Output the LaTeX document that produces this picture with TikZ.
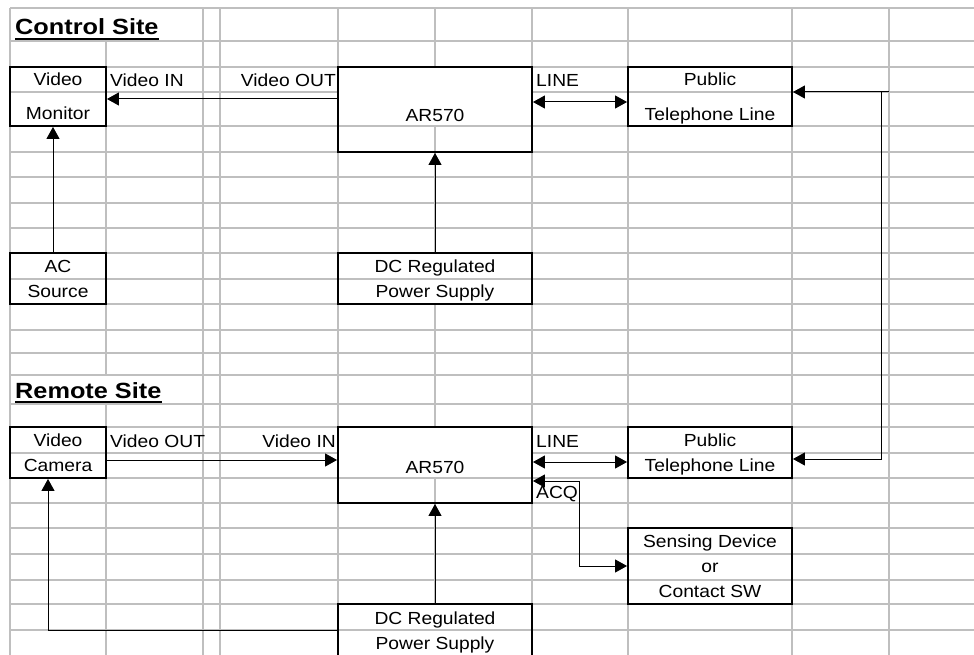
\documentclass[tikz,border=0pt]{standalone}
\usepackage{fontspec}
\usetikzlibrary{arrows.meta}
\newfontfamily\cellfont{Liberation Sans}[FakeStretch=1.1]
\newfontfamily\titlefont{Liberation Sans}[FakeStretch=1.15]
\begin{document}
\begin{tikzpicture}[
  x=1pt, y=-1pt,
  gridline/.style={draw=black!25, line width=1.3pt},
  mask/.style={fill=white},
  box/.style={
    draw, line width=1.9pt,
    inner sep=0pt, align=center, text depth=0pt,
    font=\cellfont\fontsize{17.5}{25}\selectfont
  },
  lbl/.style={inner sep=0pt, font=\cellfont\fontsize{17.5}{25}\selectfont},
  ttl/.style={inner sep=0pt, font=\titlefont\bfseries\fontsize{22}{26}\selectfont},
  arr/.style={line width=1pt, -{Triangle[length=12pt,width=13pt]}},
  arrboth/.style={line width=1pt, {Triangle[length=12pt,width=13pt]}-{Triangle[length=12pt,width=13pt]}}
]
\useasboundingbox (0,0) rectangle (974,655);

% --- sheet grid ---
\foreach \gx in {10,106,203,220,338,435,532,628,792,889}
  \draw[gridline] (\gx,8) -- (\gx,655);
\foreach \gy in {8,41,67,92,126,152,177,203,228,253,279,304,330,353,375,404,427,453,478,503,528,554,580,604,630}
  \draw[gridline] (10,\gy) -- (974,\gy);

% merged cells hide the inner grid lines
\foreach \xa/\ya/\xb/\yb in {11/9/202/40, 11/376/202/403, 339/68/531/125, 339/428/531/477,
                              339/254/531/278, 339/280/531/303, 339/605/531/629, 339/631/531/655}
  \fill[mask] (\xa,\ya) rectangle (\xb,\yb);

% --- Control Site ---
\node[ttl, anchor=base west] (ttlCtl) at (15,35) {Control Site};
\draw[line width=1.7pt] ([yshift=-4pt]ttlCtl.base west) -- ([yshift=-4pt]ttlCtl.base east);

\node[box, minimum width=96pt, minimum height=59pt] (mon) at (58,96.5) {Video\\[9pt]Monitor};
\node[box, minimum width=194pt, minimum height=85pt] (ar1) at (435,109.5) {\raisebox{-11pt}{AR570}};
\node[box, minimum width=164pt, minimum height=59pt] (ptl1) at (710,96.5) {Public\\[10pt]Telephone Line};
\node[box, minimum width=96pt, minimum height=51pt] (ac) at (58,278.5) {AC\\Source};
\node[box, minimum width=194pt, minimum height=51pt] (dc1) at (435,278.5) {DC Regulated\\Power Supply};

\node[lbl, anchor=base west] (vin1) at (110,87) {Video IN};
\node[lbl, anchor=base east] (vout1) at (336,87) {Video OUT};
\node[lbl, anchor=base west] (line1) at (536,87) {LINE};

\draw[arr] ([yshift=10.5pt]ar1.west) -- ([yshift=10.5pt]ar1.west -| mon.east);
\draw[arrboth] ([yshift=7.5pt]ar1.east) -- ([yshift=7.5pt]ar1.east -| ptl1.west);
\draw[arr] (dc1.north) -- (ar1.south);
\draw[arr] ([xshift=-5pt]ac.north) -- ([xshift=-5pt]mon.south);

% --- telephone line loop ---
\coordinate (loopR) at (889,92);
\coordinate (loopT) at (881,92);
\draw[arr] (loopR) -- (loopR -| ptl1.east);

% --- Remote Site ---
\node[ttl, anchor=base west] (ttlRem) at (15,398) {Remote Site};
\draw[line width=1.7pt] ([yshift=-4pt]ttlRem.base west) -- ([yshift=-4pt]ttlRem.base east);

\node[box, minimum width=96pt, minimum height=51pt] (cam) at (58,452.5) {Video\\Camera};
\node[box, minimum width=194pt, minimum height=76pt] (ar2) at (435,465) {\raisebox{-4pt}{AR570}};
\node[box, minimum width=164pt, minimum height=51pt] (ptl2) at (710,452.5) {Public\\Telephone Line};
\node[box, minimum width=164pt, minimum height=76pt] (sens) at (710,566) {Sensing Device\\or\\Contact SW};
\node[box, minimum width=194pt, minimum height=53pt] (dc2) at (435,630.5) {DC Regulated\\Power Supply};

\node[lbl, anchor=base west] (vout2) at (110,447) {Video OUT};
\node[lbl, anchor=base east] (vin2) at (336,447) {Video IN};
\node[lbl, anchor=base west] (line2) at (536,447) {LINE};
\node[lbl, anchor=base west] (acq) at (536,498) {ACQ};

\draw[arr] ([yshift=-7.5pt]cam.east) -- ([yshift=-7.5pt]cam.east -| ar2.west);
\draw[arrboth] ([yshift=3pt]ar2.east) -- ([yshift=3pt]ar2.east -| ptl2.west);
\draw[arrboth] ([yshift=-16pt]ar2.east) -- ++(47,0) |- (sens.west);
\draw[arr] (dc2.north) -- (ar2.south);
\draw[arr] (dc2.west) -| ([xshift=-10pt]cam.south);

\draw[arr] (loopT) |- ([yshift=-6.5pt]ptl2.east);

\end{tikzpicture}
\end{document}
